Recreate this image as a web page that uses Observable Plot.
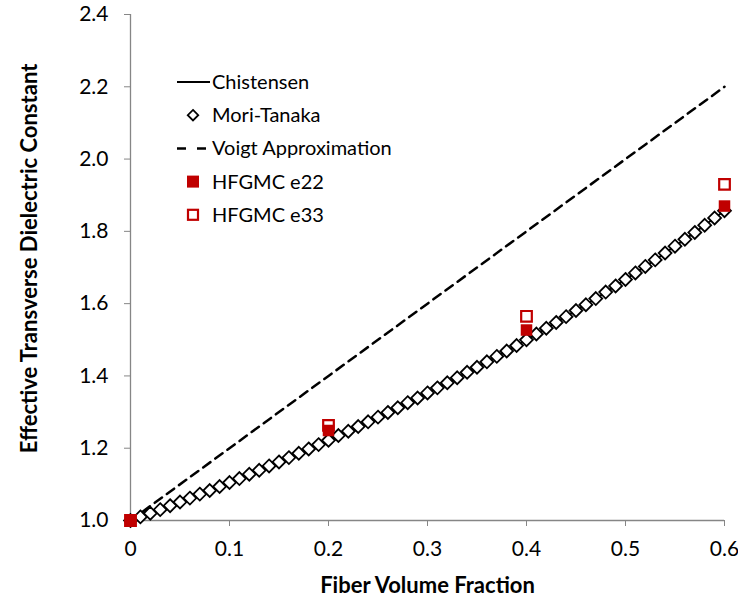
<!DOCTYPE html>
<html>
<head>
<meta charset="utf-8">
<script src="https://cdn.jsdelivr.net/npm/d3@7"></script>
<script src="https://cdn.jsdelivr.net/npm/@observablehq/plot@0.6"></script>
<style>
  body { margin: 0; background: #fff; }
  #wrap { position: relative; width: 738px; height: 600px; font-family: Lato, "Open Sans", sans-serif; }
  #legend { position: absolute; left: 0; top: 0; width: 738px; height: 600px; pointer-events: none; }
</style>
</head>
<body>
<div id="wrap"><div id="chart"></div><svg id="legend" width="738" height="600"></svg></div>
<script>
// Fiber volume fractions for the Mori-Tanaka / Christensen curves
const vf = [0,0.01,0.02,0.03,0.04,0.05,0.06,0.07,0.08,0.09,0.10,0.11,0.12,0.13,0.14,0.15,0.16,0.17,0.18,0.19,0.20,
  0.21,0.22,0.23,0.24,0.25,0.26,0.27,0.28,0.29,0.30,0.31,0.32,0.33,0.34,0.35,0.36,0.37,0.38,0.39,0.40,
  0.41,0.42,0.43,0.44,0.45,0.46,0.47,0.48,0.49,0.50,0.51,0.52,0.53,0.54,0.55,0.56,0.57,0.58,0.59,0.60];
// Mori-Tanaka values (Christensen coincides)
const moriTanaka = [1.000,1.010,1.020,1.030,1.041,1.051,1.062,1.073,1.083,1.094,1.105,1.116,1.128,1.139,1.151,1.162,1.174,1.186,1.198,1.210,1.222,
  1.235,1.247,1.260,1.273,1.286,1.299,1.312,1.326,1.339,1.353,1.367,1.381,1.395,1.410,1.424,1.439,1.454,1.469,1.484,1.500,
  1.516,1.532,1.548,1.564,1.581,1.597,1.614,1.632,1.649,1.667,1.685,1.703,1.721,1.740,1.759,1.778,1.797,1.817,1.837,1.857];
const christensen = moriTanaka;
// Voigt approximation
const voigtX = [0, 0.1, 0.2, 0.3, 0.4, 0.5, 0.6];
const voigtY = [1.0, 1.2, 1.4, 1.6, 1.8, 2.0, 2.2];
// HFGMC results
const hfX = [0, 0.2, 0.4, 0.6];
const hfE22 = [1.0, 1.249, 1.527, 1.870];
const hfE33 = [1.0, 1.263, 1.565, 1.930];
// Ticks
const xTicks = [0, 0.1, 0.2, 0.3, 0.4, 0.5, 0.6];
const yTicks = [1.0, 1.2, 1.4, 1.6, 1.8, 2.0, 2.2, 2.4];
const xTitle = "Fiber Volume Fraction";
const yTitle = "Effective Transverse Dielectric Constant";
const legendItems = ["Chistensen", "Mori-Tanaka", "Voigt Approximation", "HFGMC e22", "HFGMC e33"];

const red = "#c00000";
const axisGray = "#868686";
const font = "Lato, 'Open Sans', sans-serif";

const mt = vf.map((v, i) => ({x: v, y: moriTanaka[i]}));
const ch = vf.map((v, i) => ({x: v, y: christensen[i]}));
const vo = voigtX.map((v, i) => ({x: v, y: voigtY[i]}));
const e22 = hfX.map((v, i) => ({x: v, y: hfE22[i]}));
const e33 = hfX.map((v, i) => ({x: v, y: hfE33[i]}));

const plot = Plot.plot({
  width: 738,
  height: 600,
  marginLeft: 130,
  marginRight: 14,
  marginTop: 14,
  marginBottom: 80,
  style: {fontFamily: font, background: "#fff", color: "#000"},
  x: {domain: [0, 0.6]},
  y: {domain: [1.0, 2.4]},
  marks: [
    Plot.ruleY([1.0], {stroke: axisGray, strokeWidth: 1.3}),
    Plot.ruleX([0], {stroke: axisGray, strokeWidth: 1.3}),
    Plot.axisX({ticks: xTicks, tickSize: 6, stroke: axisGray, tickFormat: d => d === 0 ? "0" : d3.format(".1f")(d),
      fontSize: 21, tickPadding: 15, label: null}),
    Plot.axisY({ticks: yTicks, tickSize: 6, stroke: axisGray, tickFormat: d3.format(".1f"),
      fontSize: 21, tickPadding: 16, label: null}),
    Plot.text([xTitle], {frameAnchor: "bottom", lineAnchor: "middle", dy: 65, fontSize: 22, fontWeight: "bold", fill: "#000"}),
    Plot.text([yTitle], {frameAnchor: "left", textAnchor: "middle", lineAnchor: "middle", dx: -101, dy: -9, rotate: -90, fontSize: 22, fontWeight: "bold", fill: "#000"}),
    Plot.line(vo, {x: "x", y: "y", stroke: "#000", strokeWidth: 2.5, strokeDasharray: "9,6"}),
    Plot.line(ch, {x: "x", y: "y", stroke: "#000", strokeWidth: 2}),
    Plot.dot(mt, {x: "x", y: "y", symbol: "diamond2", r: 5.8, stroke: "#000", strokeWidth: 1.8, fill: "#fff"}),
    Plot.dot(e33, {x: "x", y: "y", symbol: "square", r: 6, stroke: red, strokeWidth: 2.2, fill: "#fff"}),
    Plot.dot(e22, {x: "x", y: "y", symbol: "square", r: 6.5, fill: red, stroke: "none"})
  ]
});
plot.querySelectorAll("text").forEach(t => { if (!t.getAttribute("fill")) t.setAttribute("fill", "#000"); });
document.getElementById("chart").appendChild(plot);

// Legend (overlay drawn with SVG)
const lg = d3.select("#legend");
const rowY0 = 82, rowStep = 33.2, symX = 193, textX = 212;
legendItems.forEach((name, i) => {
  const y = rowY0 + i * rowStep;
  const g = lg.append("g");
  if (i === 0) g.append("line").attr("x1", 177).attr("x2", 210).attr("y1", y).attr("y2", y).attr("stroke", "#000").attr("stroke-width", 2);
  if (i === 1) g.append("path").attr("d", d3.symbol(d3.symbolDiamond2, 70)()).attr("transform", `translate(${symX},${y})`).attr("fill", "#fff").attr("stroke", "#000").attr("stroke-width", 1.8);
  if (i === 2) g.append("line").attr("x1", 177).attr("x2", 206).attr("y1", y).attr("y2", y).attr("stroke", "#000").attr("stroke-width", 2.5).attr("stroke-dasharray", "9,11");
  if (i === 3) g.append("rect").attr("x", symX - 6).attr("y", y - 6).attr("width", 12).attr("height", 12).attr("fill", red);
  if (i === 4) g.append("rect").attr("x", symX - 5).attr("y", y - 5).attr("width", 10).attr("height", 10).attr("fill", "#fff").attr("stroke", red).attr("stroke-width", 2.2);
  g.append("text").attr("x", textX).attr("y", y).attr("dy", "0.35em").attr("font-size", 20).attr("font-family", font).attr("fill", "#000").text(name);
});
</script>
</body>
</html>
